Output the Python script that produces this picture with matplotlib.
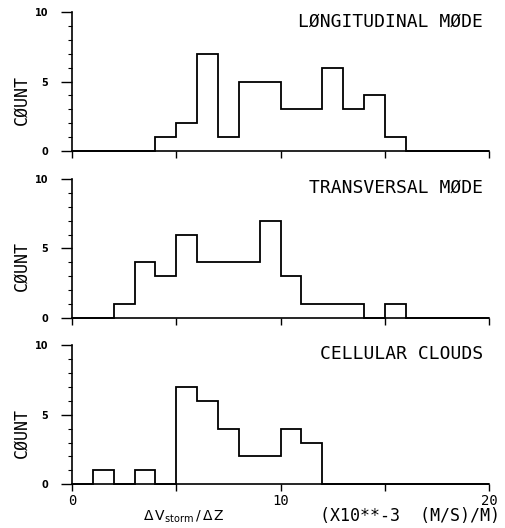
import numpy as np
import matplotlib
matplotlib.use('Agg')
import matplotlib.pyplot as plt

# Bin edges (units of 10**-3 (m/s)/m) and counts per bin.
edges = np.arange(0, 21, 1)
longitudinal = [0, 0, 0, 0, 1, 2, 7, 1, 5, 5, 3, 3, 6, 3, 4, 1, 0, 0, 0, 0]
transversal = [0, 0, 1, 4, 3, 6, 4, 4, 4, 7, 3, 1, 1, 1, 0, 1, 0, 0, 0, 0]
cellular = [0, 1, 0, 1, 0, 7, 6, 4, 2, 2, 4, 3, 0, 0, 0, 0, 0, 0, 0, 0]

titles = ['LØNGITUDINAL MØDE', 'TRANSVERSAL MØDE', 'CELLULAR CLOUDS']
all_counts = [longitudinal, transversal, cellular]

# Axes boxes in figure fractions: left, bottom, width, height.
boxes = [[0.1426, 0.714, 0.826, 0.263],
         [0.1426, 0.398, 0.826, 0.263],
         [0.1426, 0.083, 0.826, 0.263]]

mono = 'DejaVu Sans Mono'

fig = plt.figure(figsize=(5.05, 5.28), dpi=100)

for i in range(3):
    ax = fig.add_axes(boxes[i])
    ax.stairs(all_counts[i], edges, baseline=0, fill=False,
              color='black', lw=1.3, clip_on=False)
    ax.set_xlim(0, 20)
    ax.set_ylim(0, 10)

    ax.spines['top'].set_visible(False)
    ax.spines['right'].set_visible(False)
    ax.spines['left'].set_linewidth(1.2)
    ax.spines['bottom'].set_linewidth(1.2)

    ax.set_yticks([0, 5, 10])
    ax.set_yticks(np.arange(0, 11, 1), minor=True)
    ax.tick_params(axis='y', which='major', direction='out', length=8,
                   width=1.0, labelsize=7, pad=9)
    ax.tick_params(axis='y', which='minor', direction='out', length=3, width=0.8)
    for lab in ax.get_yticklabels():
        lab.set_fontweight('bold')

    ax.set_xticks([0, 5, 10, 15, 20])
    ax.tick_params(axis='x', which='major', direction='out', length=5,
                   width=1.0, labelsize=10, pad=2)
    if i < 2:
        ax.set_xticklabels([])
    else:
        ax.set_xticklabels(['0', '', '10', '', '20'], family=mono)

    ax.set_ylabel('CØUNT', family=mono, fontsize=12)
    ax.yaxis.set_label_coords(-0.1, 0.37)
    ax.text(0.985, 1.0, titles[i], transform=ax.transAxes, ha='right',
            va='top', family=mono, fontsize=13)

fig.text(0.365, 0.005, r'$\Delta\,\mathrm{V_{storm}}\,/\,\Delta\,\mathrm{Z}$',
         ha='center', va='bottom', fontsize=10)
fig.text(0.99, 0.005, '(X10**-3  (M/S)/M)', ha='right', va='bottom',
         family=mono, fontsize=12)

plt.savefig('out.png', dpi=100)
plt.close()
